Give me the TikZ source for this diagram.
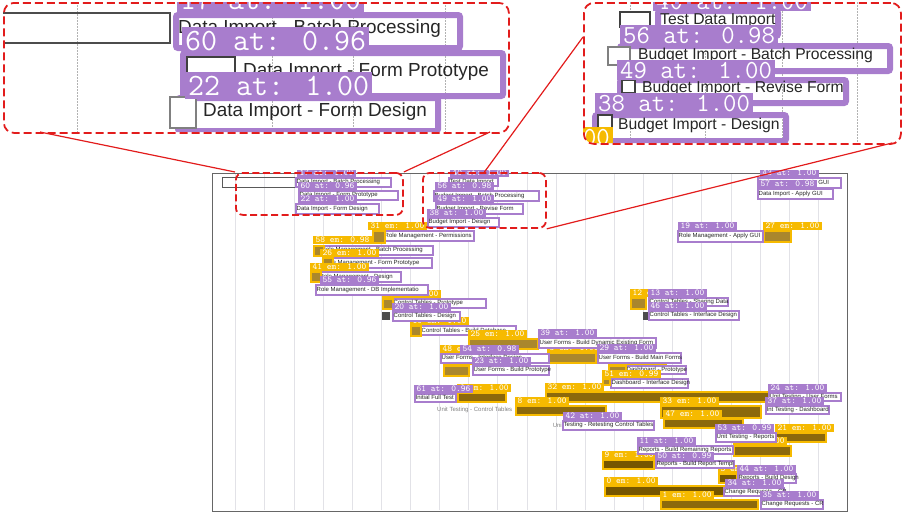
\documentclass[tikz,border=0pt]{standalone}
\usepackage{fontspec}
\setmainfont{Liberation Sans}
\definecolor{detpurple}{RGB}{168,125,205}
\definecolor{emyellow}{RGB}{246,186,0}
\definecolor{goldA}{RGB}{170,135,45}
\definecolor{goldB}{RGB}{140,105,12}
\definecolor{goldC}{RGB}{118,86,0}
\definecolor{zoomred}{RGB}{226,28,28}
\definecolor{gridgray}{RGB}{226,226,231}

\begin{document}
\begin{tikzpicture}[x=1pt, y=-1pt,
  detbox/.style={draw=detpurple, line width=1.6, fill=white, inner sep=0, anchor=north west},
  boxtext/.style={anchor=west, inner sep=1.5, text=black!85, font=\fontsize{6}{7}\selectfont},
  dettag/.style={fill=detpurple, text=white, inner xsep=2.5, inner ysep=0, minimum height=8, anchor=north west, font=\ttfamily\fontsize{9}{9}\selectfont},
  embox/.style={draw=emyellow, line width=1.8, inner sep=0, anchor=north west},
  emtag/.style={dettag, fill=emyellow},
  gridline/.style={draw=gridgray, line width=0.8},
  chartframe/.style={draw=black!60, line width=0.8},
  plaintext/.style={inner sep=0, text=black!50, font=\fontsize{6}{7}\selectfont},
  callout/.style={draw=zoomred, line width=1.8, dash pattern=on 7pt off 3.5pt, rounded corners=7, inner sep=0, anchor=north west},
  magframe/.style={draw=zoomred, line width=1.8, dash pattern=on 8pt off 4pt, rounded corners=10, inner sep=0, anchor=north west},
  zoomline/.style={draw=zoomred, line width=1.2},
  maggrid/.style={draw=black!30, line width=0.8, dash pattern=on 2pt off 1pt},
  magbox/.style={draw=detpurple, line width=6, rounded corners=2, inner sep=0, anchor=north west},
  magtextL/.style={anchor=west, inner sep=0, text=black!85, font=\fontsize{18.9}{20}\selectfont},
  magtextR/.style={anchor=west, inner sep=0, text=black!85, font=\fontsize{15.7}{17}\selectfont},
  magtagL/.style={dettag, inner xsep=3, minimum height=27, font=\ttfamily\fontsize{31}{32}\selectfont},
  magtagR/.style={dettag, inner xsep=3, minimum height=20, font=\ttfamily\fontsize{26}{27}\selectfont},
  checkbox/.style={draw=black!75, line width=1.1, fill=white}]

\useasboundingbox (0,0) rectangle (905,512);

% Gantt chart screenshot
\begin{scope}
\clip (205,170) rectangle (850,512);
\foreach \i in {0,...,20}
\draw[gridline] ({235.7+\i*29.13},174) -- ({235.7+\i*29.13},510);
\draw[chartframe] (212,173) rectangle (847,511);
\draw[draw=black!65, line width=0.7] (222,177) rectangle (295,187);

% bars without detection
\fill[black!45] (315,285) rectangle (321,294);
\fill[black!70] (382,312) rectangle (390,320);
\fill[black!70] (643,312) rectangle (648,320);

% purple detections under the yellow tags
\foreach \nm/\xa/\ya/\xb/\yb/\lb in {
  rper/383/230/473/240/Role Management - Permissions,
  rbat/320/245/432/254/Role Management - Batch Processing,
  rfpr/322/257/431/267/Role Management - Form Prototype,
  rdes/318/271/400/281/Role Management - Design,
  cpro/392/298/485/307/Control Tables - Prototype,
  cbdb/420/325/515/334/Control Tables - Build Database,
  dbpr/625/365/685/373/Dashboard - Prototype,
  dbid/610/378/687/387/Dashboard - Interface Design}
{
  \node[detbox, minimum width=\xb-\xa, minimum height=\yb-\ya] (\nm) at (\xa,\ya) {};
  \node[boxtext] (\nm-l) at (\nm.west) {\lb};
}

% yellow detections
\foreach \nm/\xa/\ya/\xb/\yb/\tx/\ty/\tg/\fc in {
  e31/372/230/384/242/368/222/31 em: 1.00/goldA,
  e58/313/245/323/255/313/236/58 em: 0.98/goldA,
  e26/322/257/332/266/320/249/26 em: 1.00/goldA,
  e41/310/271/320/281/310/263/41 em: 1.00/goldA,
  e39/382/298/392/308/382/290/39 em: 1.00/goldA,
  e10/410/325/420/335/410/317/10 em: 1.00/goldA,
  e25/468/338/537/348/468/330/25 em: 1.00/goldA,
  e48/440/353/550/362/440/345/48 em: 1.00/goldA,
  e5/547/352/595/362/547/344/5 em: 1.00/goldA,
  e4/443/365/468/375/443/357/4 em: 1.00/goldA,
  e18/608/365/625/373/608/357/18 em: 1.00/goldA,
  e51/602/378/609/384/602/370/51 em: 0.99/goldA,
  e12/630/297/645/308/630/289/12 em: 1.00/goldA,
  e27/763/230/790/241/763/222/27 em: 1.00/goldA,
  e6/457/392/505/401/457/384/6 em: 1.00/goldB,
  e32/545/391/770/401/545/383/32 em: 1.00/goldB,
  e8/515/405/605/414/515/397/8 em: 1.00/goldB,
  e33/660/405/760/417/660/397/33 em: 1.00/goldB,
  e47/663/418/742/427/663/410/47 em: 1.00/goldB,
  e21/775/432/825/441/775/424/21 em: 1.00/goldB,
  e2/733/445/790/455/733/437/2 em: 1.00/goldB,
  e9/602/459/653/468/602/451/9 em: 1.00/goldC,
  e3/718/473/736/482/718/465/3 em: 1.00/goldC,
  e0/604/485/723/495/604/477/0 em: 1.00/goldC,
  e1/660/499/757/508/660/491/1 em: 1.00/goldB}
{
  \node[embox, fill=\fc, minimum width=\xb-\xa, minimum height=\yb-\ya] (\nm) at (\xa,\ya) {};
  \node[emtag] (\nm-t) at (\tx,\ty) {\tg};
}

% purple detections with tags
\foreach \nm/\xa/\ya/\xb/\yb/\tx/\ty/\tg/\lb in {
  dimp/295/177/390/186/297/169/17 at: 1.00/Data Import - Batch Processing,
  dfpr/298/190/397/199/298/182/60 at: 0.96/Data Import - Form Prototype,
  dfds/295/203/378/213/298/195/22 at: 1.00/Data Import - Form Design,
  tdim/448/177/497/185/450/169/40 at: 1.00/Test Data Import,
  bbat/433/190/538/200/435/182/56 at: 0.98/Budget Import - Batch Processing,
  brev/435/203/522/213/435/195/49 at: 1.00/Budget Import - Revise Form,
  bdes/427/217/498/226/427/209/38 at: 1.00/Budget Import - Design,
  bgui/757/177/840/187/760/169/43 at: 1.00/Budget Import - Apply GUI,
  dgui/757/188/832/198/758/180/57 at: 0.98/Data Import - Apply GUI,
  rgui/677/230/762/241/678/222/19 at: 1.00/Role Management - Apply GUI,
  rdbi/315/284/427/294/320/276/55 at: 0.96/Role Management - DB Implementatio,
  cdes/392/311/459/320/392/303/20 at: 1.00/Control Tables - Design,
  ctsd/648/297/727/305/648/289/13 at: 1.00/Control Tables - Sharing Data,
  ctid/648/310/738/319/648/302/46 at: 1.00/Control Tables - Interface Design,
  ufdy/538/337/655/347/538/329/39 at: 1.00/User Forms - Build Dynamic Existing Form,
  ufid/440/353/548/362/460/345/54 at: 0.98/User Forms - Interface Design,
  ufbm/597/352/680/362/597/344/29 at: 1.00/User Forms - Build Main Forms,
  ufpr/472/365/548/374/472/357/23 at: 1.00/User Forms - Build Prototype,
  ift/414/393/455/401/414/385/61 at: 0.96/Initial Full Test,
  utuf/768/392/840/400/768/384/24 at: 1.00/Unit Testing - User Forms,
  itdb/765/405/828/413/765/397/37 at: 1.00/Int Testing - Dashboard,
  utrc/562/420/653/429/563/412/42 at: 1.00/Testing - Retesting Control Tables,
  utrp/715/432/775/441/715/424/53 at: 0.99/Unit Testing - Reports,
  rbrr/637/445/732/453/637/437/11 at: 1.00/Reports - Build Remaining Reports,
  rbrt/655/460/733/467/655/452/50 at: 0.99/Reports - Build Report Templ,
  rbds/737/473/795/482/737/465/44 at: 1.00/Reports - Build Design,
  crqa/723/487/783/495/725/479/34 at: 1.00/Change Requests - CR,
  crqb/760/499/822/508/760/491/35 at: 1.00/Change Requests - CR}
{
  \node[detbox, minimum width=\xb-\xa, minimum height=\yb-\ya] (\nm) at (\xa,\ya) {};
  \node[boxtext] (\nm-l) at (\nm.west) {\lb};
  \node[dettag] (\nm-t) at (\tx,\ty) {\tg};
}

% plain task labels
\node[plaintext, anchor=west] (utct) at (437,410) {Unit Testing - Control Tables};
\node[plaintext, anchor=east] (utrc-u) at (utrc.west) {Uni};
\end{scope}

% magnified view, left
\begin{scope}
\clip[rounded corners=10] (3,2) rectangle (508,132);
\foreach \x in {77,272,353,445}
\draw[maggrid] (\x,2) -- (\x,132);
\draw[draw=black!70, line width=1.3] (-5,13) rectangle (170,43);
\foreach \nm/\xa/\ya/\xb/\yb/\lx/\lb in {
  mdimp/173/12/457/45/178/Data Import - Batch Processing,
  mdfpr/180/50/500/93/243/Data Import - Form Prototype,
  mdfds/175/95/435/128/203/Data Import - Form Design}
{
  \node[magbox, minimum width=\xb-\xa, minimum height=\yb-\ya] (\nm) at (\xa,\ya) {};
  \node[magtextL] (\nm-l) at (\lx,{(\ya+\yb)/2}) {\lb};
}
\draw[checkbox] (187,57) rectangle (235,75);
\draw[checkbox, draw=black!50] (170,97) rectangle (196,128);
\foreach \nm/\tx/\ty/\tg in {mdimp/177/-14/17 at: 1.00, mdfpr/182/27/60 at: 0.96, mdfds/185/72/22 at: 1.00}
\node[magtagL] (\nm-t) at (\tx,\ty) {\tg};
\end{scope}

% magnified view, right
\begin{scope}
\clip[rounded corners=10] (583,2) rectangle (900,143);
\foreach \x in {630,705,782,857}
\draw[maggrid] (\x,2) -- (\x,143);
\foreach \nm/\xa/\ya/\xb/\yb in {
  mtdim/655/8/775/33,
  mbbat/617/43/887/68,
  mbrev/617/77/843/100,
  mbdes/592/112/783/138}
\node[magbox, minimum width=\xb-\xa, minimum height=\yb-\ya] (\nm) at (\xa,\ya) {};
\draw[checkbox] (620,12) rectangle (650,27);
\draw[checkbox, draw=black!50] (608,47) rectangle (630,65);
\draw[checkbox] (622,80) rectangle (635,93);
\draw[checkbox] (598,115) rectangle (612,128);
\foreach \nm/\lx/\ly/\lb in {
  mtdim/660/20.5/Test Data Import,
  mbbat/638/55.5/Budget Import - Batch Processing,
  mbrev/642/88.5/Budget Import - Revise Form,
  mbdes/618/125/Budget Import - Design}
\node[magtextR] (\nm-l) at (\lx,\ly) {\lb};
\node[magtagR, fill=emyellow, anchor=north east] (me31-t) at (613,127) {31 em: 1.00};
\foreach \nm/\tx/\ty/\tg in {mtdim/653/-9/40 at: 1.00, mbbat/620/25/56 at: 0.98, mbrev/617/60/49 at: 1.00, mbdes/595/93/38 at: 1.00}
\node[magtagR] (\nm-t) at (\tx,\ty) {\tg};
\end{scope}

% callouts and their connectors
\node[callout, minimum width=167, minimum height=42] (zoomL) at (235,172) {};
\node[callout, minimum width=123, minimum height=55] (zoomR) at (422,172) {};
\node[magframe, minimum width=505, minimum height=130] (magL) at (3,2) {};
\node[magframe, minimum width=317, minimum height=141] (magR) at (583,2) {};
\coordinate (magL-a) at (40,132);
\coordinate (magL-b) at (490,132);
\coordinate (magR-a) at (583,37);
\coordinate (magR-b) at (892,143);
\draw[zoomline] (magL-a) -- (zoomL.north west);
\draw[zoomline] (magL-b) -- (zoomL.north east);
\draw[zoomline] (magR-a) -- (zoomR.north);
\draw[zoomline] (magR-b) -- (zoomR.south east);

\end{tikzpicture}
\end{document}
